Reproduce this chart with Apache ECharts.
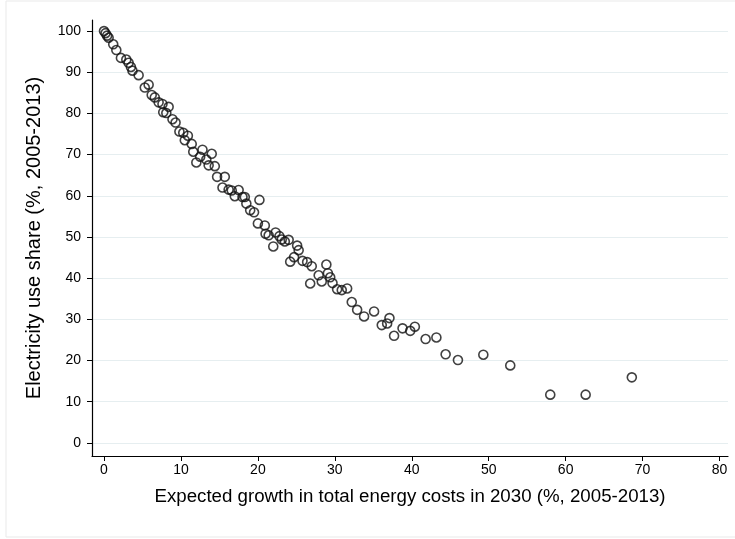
<!DOCTYPE html>
<html>
<head>
<meta charset="utf-8">
<script src="https://cdn.jsdelivr.net/npm/echarts@6/dist/echarts.min.js"></script>
<style>
  html, body { margin: 0; padding: 0; background: #fff; }
  #chart { width: 735px; height: 539px; }
</style>
</head>
<body>
<div id="chart"></div>
<script>
// expected growth in total energy costs (x) and electricity use share (y)
const costGrowth = [
  0.0, 0.2, 0.4, 0.6, 1.2, 1.6, 2.2, 2.9, 3.2, 3.5, 3.7, 4.5,
  5.3, 5.8, 6.2, 6.6, 7.1, 7.6, 8.4, 7.7, 8.1, 8.9, 9.3,
  9.8, 10.3, 10.9, 10.5, 11.4, 11.6, 12.8, 14.0, 12.5, 12.0, 13.3, 13.6, 14.4,
  14.7, 15.7, 15.4, 16.2, 16.6, 17.0, 17.5, 18.0, 18.3, 18.5, 19.0, 19.5, 20.2,
  20.0, 20.9, 21.0, 21.4, 22.3, 22.8, 23.1, 23.5, 24.0, 22.0, 25.1, 25.3, 24.7,
  24.2, 25.8, 26.4, 27.0, 26.8, 27.9, 28.3, 28.9, 29.1, 29.4, 29.7, 30.3, 30.9,
  31.6, 32.2, 32.9, 33.8, 35.1, 36.1, 36.8, 37.1, 37.7, 38.8, 39.8, 40.4, 41.8,
  43.2, 44.4, 46.0, 49.3, 52.8, 58.0, 62.6, 68.6
];
const elecShare = [
  100.0, 99.5, 98.9, 98.4, 96.8, 95.4, 93.5, 93.1, 92.3, 91.3, 90.4, 89.3,
  86.3, 87.0, 84.5, 83.9, 82.7, 82.3, 81.6, 80.3, 80.1, 78.6, 77.8,
  75.6, 75.3, 74.6, 73.5, 72.6, 70.7, 71.2, 70.2, 69.5, 68.1, 68.8, 67.4, 67.2,
  64.6, 64.6, 62.0, 61.5, 61.3, 59.9, 61.4, 59.7, 59.7, 58.1, 56.5, 56.0, 59.0,
  53.3, 52.8, 50.8, 50.4, 51.1, 50.2, 49.4, 48.9, 49.3, 47.7, 47.9, 46.8, 45.1,
  44.0, 44.2, 43.9, 42.9, 38.7, 40.7, 39.2, 43.3, 41.2, 40.2, 38.8, 37.3, 37.1,
  37.5, 34.2, 32.3, 30.7, 31.9, 28.6, 29.0, 30.3, 26.0, 27.8, 27.2, 28.2, 25.2,
  25.6, 21.5, 20.1, 21.4, 18.8, 11.7, 11.7, 15.9
];
const xTicks = [0, 10, 20, 30, 40, 50, 60, 70, 80];
const yTicks = [0, 10, 20, 30, 40, 50, 60, 70, 80, 90, 100];

const points = costGrowth.map((x, i) => [x, elecShare[i]]);

const myChart = echarts.init(document.getElementById('chart'));
const fontFamily = 'Liberation Sans, Arial, sans-serif';
const axisFont = { color: '#000', fontSize: 14, fontFamily };
const gridColor = '#e6eef0';

myChart.setOption({
  animation: false,
  backgroundColor: '#fff',
  graphic: [{
    type: 'rect',
    shape: { x: 6, y: 1, width: 760, height: 536 },
    style: { fill: 'none', stroke: '#e9e9e9', lineWidth: 1 },
    silent: true
  }],
  grid: { left: 92, right: 7, top: 20, bottom: 83 },
  xAxis: {
    type: 'value',
    min: -1.56,
    max: 81.1,
    name: 'Expected growth in total energy costs in 2030 (%, 2005-2013)',
    nameLocation: 'middle',
    nameGap: 31,
    nameTextStyle: { color: '#000', fontSize: 18.7, fontFamily },
    axisLine: { onZero: false, lineStyle: { color: '#000', width: 1.2 } },
    axisTick: { customValues: xTicks, length: 5, lineStyle: { color: '#000' } },
    axisLabel: { customValues: xTicks, margin: 7, ...axisFont },
    splitLine: { show: false }
  },
  yAxis: {
    type: 'value',
    min: -3.2,
    max: 102.7,
    name: 'Electricity use share (%, 2005-2013)',
    nameLocation: 'middle',
    nameGap: 48,
    nameRotate: 90,
    nameTextStyle: { color: '#000', fontSize: 20, fontFamily },
    axisLine: { show: true, onZero: false, lineStyle: { color: '#000', width: 1.2 } },
    axisTick: { show: true, customValues: yTicks, length: 5, lineStyle: { color: '#000' } },
    axisLabel: { customValues: yTicks, margin: 11, ...axisFont },
    splitLine: { show: true, lineStyle: { color: gridColor, width: 1.2 } }
  },
  series: [{
    type: 'scatter',
    data: points,
    symbol: 'circle',
    symbolSize: 9,
    itemStyle: { color: 'rgba(0,0,0,0)', borderColor: '#111', borderWidth: 1.6 }
  }]
});
</script>
</body>
</html>
